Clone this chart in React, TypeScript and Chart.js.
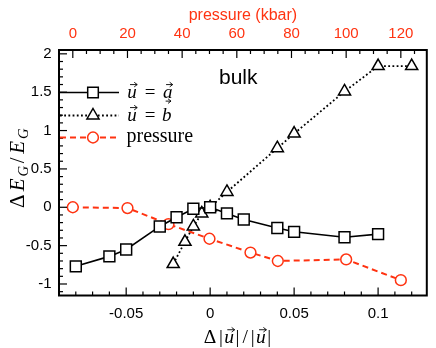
import { useEffect, useRef } from 'react';
import { Chart, registerables } from 'chart.js';
Chart.register(...registerables);

// ---- data ----
const strainA = [-0.08, -0.06, -0.05, -0.03, -0.02, -0.01, 0, 0.01, 0.02, 0.04, 0.05, 0.08, 0.1];
const gapA = [-0.77, -0.64, -0.55, -0.25, -0.13, -0.02, 0, -0.08, -0.16, -0.27, -0.32, -0.39, -0.35];
const strainB = [-0.022, -0.015, -0.01, -0.005, 0, 0.01, 0.04, 0.05, 0.08, 0.1, 0.12];
const gapB = [-0.74, -0.45, -0.25, -0.08, 0, 0.2, 0.77, 0.96, 1.51, 1.84, 1.84];
const pressureKbar = [0, 20, 35, 50, 65, 75, 100, 120];
const gapP = [0, -0.01, -0.22, -0.41, -0.59, -0.7, -0.68, -0.95];

const strainTicks = [-0.05, 0, 0.05, 0.1];
const strainLabels = ['-0.05', '0', '0.05', '0.1'];
const pressureTicks = [0, 20, 40, 60, 80, 100, 120];
const pressureLabels = ['0', '20', '40', '60', '80', '100', '120'];
const gapTicks = [-1, -0.5, 0, 0.5, 1, 1.5, 2];
const gapLabels = ['-1', '-0.5', '0', '0.5', '1', '1.5', '2'];

const RED = '#ff3311';
const TICK_FONT = { family: 'Liberation Sans', size: 15 };
const DOT_DASH = [1.8, 2.4];

type Piece = { t: string; it?: boolean; sub?: boolean; vec?: boolean; tall?: boolean; adv: number };

function drawPieces(
  ctx: CanvasRenderingContext2D,
  pieces: Piece[],
  x0: number,
  base: number,
  size: number,
  center: boolean
) {
  const widths = pieces.map((p) => p.adv * size * (p.sub ? 0.7 : 1));
  const total = widths.reduce((a, b) => a + b, 0);
  let x = center ? x0 - total / 2 : x0;
  ctx.fillStyle = '#000';
  ctx.textBaseline = 'alphabetic';
  ctx.textAlign = 'left';
  pieces.forEach((p, i) => {
    const fs = p.sub ? size * 0.7 : size;
    ctx.font = `${p.it ? 'italic ' : ''}${fs}px "Liberation Serif"`;
    const gw = ctx.measureText(p.t).width;
    const w = widths[i];
    const y = base + (p.sub ? size * 0.2 : 0);
    ctx.fillText(p.t, x + (w - gw) / 2, y);
    if (p.vec) {
      const ay = y - (p.tall ? 1.02 : 0.68) * fs;
      const xs = x + w * 0.22 + fs * 0.06;
      const xe = x + w * 0.88 + fs * 0.06;
      ctx.save();
      ctx.strokeStyle = '#000';
      ctx.lineWidth = 0.9;
      ctx.beginPath();
      ctx.moveTo(xs, ay);
      ctx.lineTo(xe, ay);
      ctx.moveTo(xe - 3, ay - 2.3);
      ctx.lineTo(xe, ay);
      ctx.lineTo(xe - 3, ay + 2.3);
      ctx.stroke();
      ctx.restore();
    }
    x += w;
  });
}

const overlay = {
  id: 'overlay',
  afterDraw(chart: any) {
    const { ctx, chartArea: a, scales } = chart;
    const sx = scales.x;
    const sx2 = scales.x2;
    const sy = scales.y;
    ctx.save();
    ctx.strokeStyle = '#000';
    ctx.lineWidth = 1.2;
    const line = (x1: number, y1: number, x2: number, y2: number) => {
      ctx.beginPath();
      ctx.moveTo(x1, y1);
      ctx.lineTo(x2, y2);
      ctx.stroke();
    };
    // bottom ticks (inside)
    for (let i = -9; i <= 12; i++) {
      const v = i / 100;
      const px = sx.getPixelForValue(v);
      const major = i % 5 === 0;
      line(px, a.bottom, px, a.bottom - (major ? 8 : 4));
    }
    // top ticks (inside)
    for (let i = -1; i <= 25; i++) {
      const v = i * 5;
      if (v < sx2.min || v > sx2.max) continue;
      const px = sx2.getPixelForValue(v);
      const major = v % 20 === 0;
      line(px, a.top, px, a.top + (major ? 8 : 4));
    }
    // left ticks (inside)
    for (let i = -11; i <= 20; i++) {
      const v = i / 10;
      const py = sy.getPixelForValue(v);
      const major = i % 5 === 0;
      line(a.left, py, a.left + (major ? 8 : 4), py);
    }
    // frame
    ctx.lineWidth = 2;
    ctx.strokeRect(a.left, a.top, a.right - a.left, a.bottom - a.top);

    // "bulk"
    ctx.fillStyle = '#000';
    ctx.font = '21px "Liberation Sans"';
    ctx.textAlign = 'left';
    ctx.textBaseline = 'alphabetic';
    ctx.fillText('bulk', 219, 84);

    // legend
    const lx1 = 60;
    const lx2 = 119;
    const mx = 93;
    const tx = 126.5;
    // row 1
    let ry = 92.5;
    ctx.setLineDash([]);
    ctx.lineWidth = 1.5;
    ctx.strokeStyle = '#000';
    line(lx1, ry, lx2, ry);
    ctx.fillStyle = '#fff';
    ctx.beginPath();
    ctx.rect(mx - 5.3, ry - 5.3, 10.6, 10.6);
    ctx.fill();
    ctx.stroke();
    drawPieces(
      ctx,
      [
        { t: 'u', it: true, vec: true, adv: 0.572 },
        { t: '', adv: 0.278 },
        { t: '=', adv: 0.778 },
        { t: '', adv: 0.278 },
        { t: 'a', it: true, vec: true, adv: 0.529 },
      ],
      tx,
      ry + 5,
      19,
      false
    );
    // row 2
    ry = 115.5;
    ctx.setLineDash(DOT_DASH);
    ctx.strokeStyle = '#000';
    ctx.lineWidth = 1.8;
    line(lx1, ry, lx2, ry);
    ctx.setLineDash([]);
    ctx.lineWidth = 1.5;
    ctx.fillStyle = '#fff';
    ctx.beginPath();
    const r = 7;
    ctx.moveTo(mx, ry - r);
    ctx.lineTo(mx + r * 0.866, ry + r / 2);
    ctx.lineTo(mx - r * 0.866, ry + r / 2);
    ctx.closePath();
    ctx.fill();
    ctx.stroke();
    drawPieces(
      ctx,
      [
        { t: 'u', it: true, vec: true, adv: 0.572 },
        { t: '', adv: 0.278 },
        { t: '=', adv: 0.778 },
        { t: '', adv: 0.278 },
        { t: 'b', it: true, vec: true, tall: true, adv: 0.429 },
      ],
      tx,
      ry + 5,
      19,
      false
    );
    // row 3
    ry = 137.5;
    ctx.setLineDash([6, 4]);
    ctx.strokeStyle = RED;
    ctx.lineWidth = 2;
    line(lx1, ry, lx2, ry);
    ctx.setLineDash([]);
    ctx.lineWidth = 1.5;
    ctx.fillStyle = '#fff';
    ctx.beginPath();
    ctx.arc(mx, ry, 5.4, 0, Math.PI * 2);
    ctx.fill();
    ctx.stroke();
    ctx.fillStyle = '#000';
    ctx.font = '20px "Liberation Serif"';
    ctx.textAlign = 'left';
    ctx.textBaseline = 'alphabetic';
    ctx.fillText('pressure', tx, ry + 4.5);

    // x title: Δ|u|/|u|
    drawPieces(
      ctx,
      [
        { t: 'Δ', adv: 0.833 },
        { t: '|', adv: 0.278 },
        { t: 'u', it: true, vec: true, adv: 0.572 },
        { t: '|', adv: 0.278 },
        { t: '/', adv: 0.5 },
        { t: '|', adv: 0.278 },
        { t: 'u', it: true, vec: true, adv: 0.572 },
        { t: '|', adv: 0.278 },
      ],
      237,
      343,
      19.5,
      true
    );

    // y title: ΔE_G/E_G
    ctx.save();
    ctx.translate(24, 169);
    ctx.rotate(-Math.PI / 2);
    drawPieces(
      ctx,
      [
        { t: 'Δ', adv: 0.833 },
        { t: 'E', it: true, adv: 0.738 },
        { t: 'G', it: true, sub: true, adv: 0.786 },
        { t: '/', adv: 0.5 },
        { t: 'E', it: true, adv: 0.738 },
        { t: 'G', it: true, sub: true, adv: 0.786 },
      ],
      0,
      0,
      21,
      true
    );
    ctx.restore();
    ctx.restore();
  },
};

export default function App() {
  const ref = useRef<HTMLCanvasElement>(null);
  useEffect(() => {
    document.body.style.margin = '0';
    const chart = new Chart(ref.current!, {
      type: 'scatter',
      data: {
        datasets: [
          {
            label: 'u = a',
            data: strainA.map((x, i) => ({ x, y: gapA[i] })),
            xAxisID: 'x',
            yAxisID: 'y',
            showLine: true,
            borderColor: '#000',
            borderWidth: 1.6,
            pointStyle: 'rect',
            pointRadius: 7.7,
            pointBorderWidth: 1.5,
            pointBorderColor: '#000',
            pointBackgroundColor: '#fff',
          },
          {
            label: 'u = b',
            data: strainB.map((x, i) => ({ x, y: gapB[i] })),
            xAxisID: 'x',
            yAxisID: 'y',
            showLine: true,
            borderColor: '#000',
            borderWidth: 1.8,
            borderDash: DOT_DASH,
            pointStyle: 'triangle',
            pointRadius: 7,
            pointBorderWidth: 1.5,
            pointBorderColor: '#000',
            pointBackgroundColor: '#fff',
          },
          {
            label: 'pressure',
            data: pressureKbar.map((x, i) => ({ x, y: gapP[i] })),
            xAxisID: 'x2',
            yAxisID: 'y',
            showLine: true,
            borderColor: RED,
            borderWidth: 2,
            borderDash: [6, 4],
            pointStyle: 'circle',
            pointRadius: 5.4,
            pointBorderWidth: 1.5,
            pointBorderColor: RED,
            pointBackgroundColor: '#fff',
          },
        ],
      },
      options: {
        responsive: false,
        animation: false,
        devicePixelRatio: 1,
        layout: { padding: { left: 0, right: 4, top: 0, bottom: 0 } },
        plugins: { legend: { display: false }, tooltip: { enabled: false } },
        scales: {
          x: {
            type: 'linear',
            position: 'bottom',
            min: -0.09,
            max: 0.129,
            afterFit: (s: any) => {
              s.height = 52.5;
            },
            afterBuildTicks: (s: any) => {
              s.ticks = strainTicks.map((value) => ({ value }));
            },
            ticks: {
              callback: (_v: any, i: number) => strainLabels[i] ?? '',
              padding: 9,
              font: TICK_FONT,
              color: '#000',
              maxRotation: 0,
              autoSkip: false,
            },
            grid: { display: false, drawTicks: false },
            border: { display: false },
          },
          x2: {
            type: 'linear',
            position: 'top',
            min: -5.05,
            max: 129.5,
            afterFit: (s: any) => {
              s.height = 50;
            },
            afterBuildTicks: (s: any) => {
              s.ticks = pressureTicks.map((value) => ({ value }));
            },
            ticks: {
              callback: (_v: any, i: number) => pressureLabels[i] ?? '',
              padding: 7.6,
              font: TICK_FONT,
              color: RED,
              maxRotation: 0,
              autoSkip: false,
            },
            title: {
              display: true,
              text: 'pressure (kbar)',
              color: RED,
              font: { family: 'Liberation Sans', size: 16 },
              padding: { top: 5.6, bottom: 0 },
            },
            grid: { display: false, drawTicks: false },
            border: { display: false },
          },
          y: {
            type: 'linear',
            position: 'left',
            min: -1.15,
            max: 2.05,
            afterFit: (s: any) => {
              s.width = 59;
            },
            afterBuildTicks: (s: any) => {
              s.ticks = gapTicks.map((value) => ({ value }));
            },
            ticks: {
              callback: (_v: any, i: number) => gapLabels[i] ?? '',
              padding: 7.3,
              font: TICK_FONT,
              color: '#000',
              autoSkip: false,
            },
            grid: { display: false, drawTicks: false },
            border: { display: false },
          },
        },
      },
      plugins: [overlay],
    });
    return () => chart.destroy();
  }, []);
  return (
    <div style={{ width: 436, height: 348 }}>
      <canvas ref={ref} width={436} height={348} style={{ display: 'block' }} />
    </div>
  );
}
